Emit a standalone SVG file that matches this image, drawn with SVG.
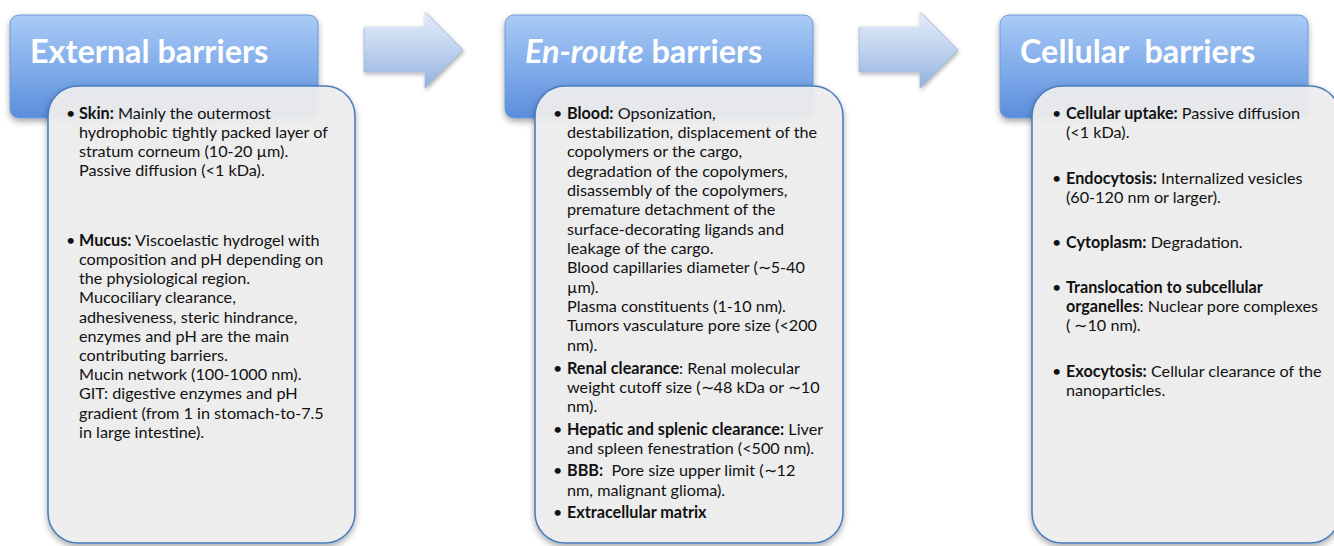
<svg xmlns="http://www.w3.org/2000/svg" width="1334" height="546" viewBox="0 0 1334 546">
<defs>
<linearGradient id="hdr" x1="0" y1="0" x2="0" y2="1">
<stop offset="0" stop-color="#a9cbf5"/>
<stop offset="0.45" stop-color="#86b0ec"/>
<stop offset="1" stop-color="#5b8ddb"/>
</linearGradient>
<linearGradient id="arr" x1="0" y1="0" x2="0" y2="1">
<stop offset="0" stop-color="#e3ecf8"/>
<stop offset="0.5" stop-color="#bfd2ee"/>
<stop offset="1" stop-color="#93b1dc"/>
</linearGradient>
<filter id="sh" x="-10%" y="-10%" width="120%" height="120%">
<feDropShadow dx="0" dy="3" stdDeviation="3" flood-color="#000" flood-opacity="0.35"/>
</filter>
<filter id="sh2" x="-10%" y="-10%" width="120%" height="130%">
<feDropShadow dx="1" dy="2" stdDeviation="2" flood-color="#000" flood-opacity="0.3"/>
</filter>
</defs>
<style>
.hdr{fill:url(#hdr);stroke:#6f9ad8;stroke-width:1}
.ht{font-family:Lato,"Open Sans",sans-serif;font-weight:bold;font-size:32.4px;fill:#fff}
.pnl{fill:#efefef;fill-opacity:0.93;stroke:#4a7ebd;stroke-width:1.6}
.t{font-family:Lato,"Open Sans",sans-serif;font-size:16.2px;fill:#111}
.b{font-weight:bold}
.arr{fill:url(#arr);stroke:#9fb8dc;stroke-width:0.8}
</style>
<rect width="1334" height="546" fill="#fff"/>
<g id="connectors">
<g filter="url(#sh2)">
<polygon class="arr" points="364,27 425,27 425,12 463,50 425,88 425,72 364,72"/>
<polygon class="arr" points="859,27 920,27 920,12 958,50 920,88 920,72 859,72"/>
</g>
<polyline points="364,27 425,27 425,12" fill="none" stroke="#f4f8fd" stroke-width="1"/>
<polyline points="859,27 920,27 920,12" fill="none" stroke="#f4f8fd" stroke-width="1"/>
</g>
<g id="external">
<rect class="hdr" x="10" y="15" width="308" height="103" rx="9" filter="url(#sh)"/>
<text class="ht" x="30" y="63">External barriers</text>
<rect class="pnl" x="48" y="86" width="307" height="457" rx="30" filter="url(#sh)"/>
<g class="t">
<text x="66" y="119">•</text>
<text x="79" y="119"><tspan class="b">Skin:</tspan> Mainly the outermost</text>
<text x="79" y="138">hydrophobic tightly packed layer of</text>
<text x="79" y="157">stratum corneum (10-20 µm).</text>
<text x="79" y="176">Passive diffusion (&lt;1 kDa).</text>
<text x="66" y="246">•</text>
<text x="79" y="246"><tspan class="b">Mucus:</tspan> Viscoelastic hydrogel with</text>
<text x="79" y="265">composition and pH depending on</text>
<text x="79" y="284">the physiological region.</text>
<text x="79" y="303">Mucociliary clearance,</text>
<text x="79" y="323">adhesiveness, steric hindrance,</text>
<text x="79" y="342">enzymes and pH are the main</text>
<text x="79" y="361">contributing barriers.</text>
<text x="79" y="380">Mucin network (100-1000 nm).</text>
<text x="79" y="399">GIT: digestive enzymes and pH</text>
<text x="79" y="419">gradient (from 1 in stomach-to-7.5</text>
<text x="79" y="438">in large intestine).</text>
</g>
</g>
<g id="enroute">
<rect class="hdr" x="505" y="15" width="308" height="103" rx="9" filter="url(#sh)"/>
<text class="ht" x="525" y="63"><tspan font-style="italic">En-route</tspan> barriers</text>
<rect class="pnl" x="535" y="86" width="308" height="457" rx="30" filter="url(#sh)"/>
<g class="t">
<text x="553" y="119">•</text>
<text x="567" y="119"><tspan class="b">Blood:</tspan> Opsonization,</text>
<text x="567" y="138">destabilization, displacement of the</text>
<text x="567" y="157">copolymers or the cargo,</text>
<text x="567" y="177">degradation of the copolymers,</text>
<text x="567" y="196">disassembly of the copolymers,</text>
<text x="567" y="215">premature detachment of the</text>
<text x="567" y="235">surface-decorating ligands and</text>
<text x="567" y="254">leakage of the cargo.</text>
<text x="567" y="273">Blood capillaries diameter (∼5-40</text>
<text x="567" y="293">µm).</text>
<text x="567" y="312">Plasma constituents (1-10 nm).</text>
<text x="567" y="331">Tumors vasculature pore size (&lt;200</text>
<text x="567" y="351">nm).</text>
<text x="553" y="374">•</text>
<text x="567" y="374"><tspan class="b">Renal clearance</tspan>: Renal molecular</text>
<text x="567" y="393">weight cutoff size (∼48 kDa or ∼10</text>
<text x="567" y="412">nm).</text>
<text x="553" y="435">•</text>
<text x="567" y="435"><tspan class="b">Hepatic and splenic clearance:</tspan> Liver</text>
<text x="567" y="454">and spleen fenestration (&lt;500 nm).</text>
<text x="553" y="476">•</text>
<text x="567" y="476" xml:space="preserve"><tspan class="b">BBB:</tspan>  Pore size upper limit (∼12</text>
<text x="567" y="496">nm, malignant glioma).</text>
<text x="553" y="518">•</text>
<text x="567" y="518" class="b">Extracellular matrix</text>
</g>
</g>
<g id="cellular">
<rect class="hdr" x="1000" y="15" width="308" height="103" rx="9" filter="url(#sh)"/>
<text class="ht" x="1020" y="63" xml:space="preserve">Cellular  barriers</text>
<rect class="pnl" x="1032" y="86" width="308" height="457" rx="30" filter="url(#sh)"/>
<g class="t">
<text x="1052" y="119">•</text>
<text x="1066" y="119"><tspan class="b">Cellular uptake:</tspan> Passive diffusion</text>
<text x="1066" y="138">(&lt;1 kDa).</text>
<text x="1052" y="184">•</text>
<text x="1066" y="184"><tspan class="b">Endocytosis:</tspan> Internalized vesicles</text>
<text x="1066" y="203">(60-120 nm or larger).</text>
<text x="1052" y="248">•</text>
<text x="1066" y="248"><tspan class="b">Cytoplasm:</tspan> Degradation.</text>
<text x="1052" y="293">•</text>
<text x="1066" y="293" class="b">Translocation to subcellular</text>
<text x="1066" y="312"><tspan class="b">organelles</tspan>: Nuclear pore complexes</text>
<text x="1066" y="331">( ∼10 nm).</text>
<text x="1052" y="377">•</text>
<text x="1066" y="377"><tspan class="b">Exocytosis:</tspan> Cellular clearance of the</text>
<text x="1066" y="396">nanoparticles.</text>
</g>
</g>
</svg>
